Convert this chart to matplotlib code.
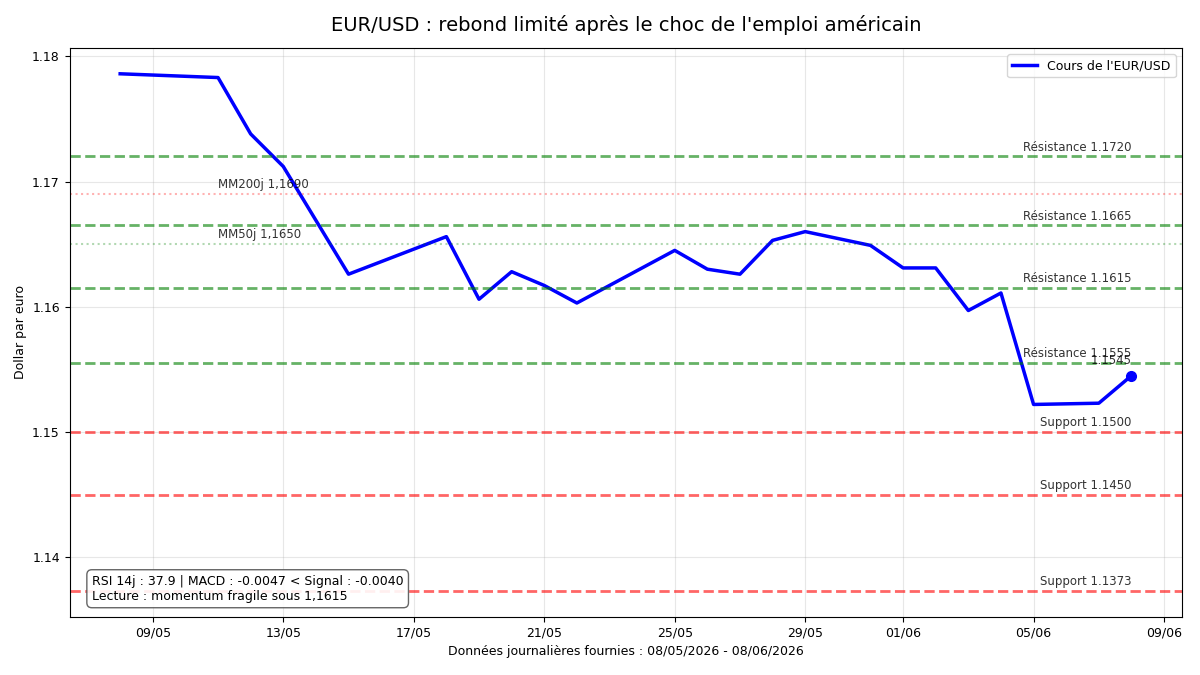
import matplotlib
matplotlib.use("Agg")
import matplotlib.pyplot as plt
import matplotlib.dates as mdates
import matplotlib.transforms as mtransforms
import pandas as pd

dates = ["2026-05-08", "2026-05-11", "2026-05-12", "2026-05-13", "2026-05-15",
         "2026-05-18", "2026-05-19", "2026-05-20", "2026-05-21", "2026-05-22",
         "2026-05-25", "2026-05-26", "2026-05-27", "2026-05-28", "2026-05-29",
         "2026-05-31", "2026-06-01", "2026-06-02", "2026-06-03", "2026-06-04",
         "2026-06-05", "2026-06-07", "2026-06-08"]
prices = [1.1786, 1.1783, 1.1738, 1.1712, 1.1626,
          1.1656, 1.1606, 1.1628, 1.1617, 1.1603,
          1.1645, 1.1630, 1.1626, 1.1653, 1.1660,
          1.1649, 1.1631, 1.1631, 1.1597, 1.1611,
          1.1522, 1.1523, 1.1545]
resistances = [1.1720, 1.1665, 1.1615, 1.1555]
supports = [1.1500, 1.1450, 1.1373]
mm200 = 1.1690
mm50 = 1.1650
mm200_label = "MM200j 1,1690"
mm50_label = "MM50j 1,1650"
last_label = "1.1545"
info_text = "RSI 14j : 37.9 | MACD : -0.0047 < Signal : -0.0040\nLecture : momentum fragile sous 1,1615"

x = pd.to_datetime(dates)

fig = plt.figure(figsize=(12, 6.75), dpi=100)
ax = fig.add_axes([0.058, 0.086, 0.927, 0.843])

ax.plot(x, prices, color="blue", lw=2.5, label="Cours de l'EUR/USD")
ax.plot(x[-1], prices[-1], "o", color="blue", ms=7)

for r in resistances:
    ax.axhline(r, color="green", ls="--", lw=2, alpha=0.6)
for s in supports:
    ax.axhline(s, color="red", ls="--", lw=2, alpha=0.6)
ax.axhline(mm200, color="red", ls=":", lw=1.5, alpha=0.3)
ax.axhline(mm50, color="green", ls=":", lw=1.5, alpha=0.3)

offd = mtransforms.offset_copy(ax.transData, fig=fig, x=0, y=2, units="points")
xlast = mdates.date2num(x[-1])
for r in resistances:
    ax.text(xlast, r, f"Résistance {r:.4f}", transform=offd, ha="right", va="bottom",
            fontsize=8.5, color="black", alpha=0.8)
for s in supports:
    ax.text(xlast, s, f"Support {s:.4f}", transform=offd, ha="right", va="bottom",
            fontsize=8.5, color="black", alpha=0.8)

ax.text(mdates.date2num(x[1]), mm200, mm200_label, transform=offd, ha="left", va="bottom",
        fontsize=8.5, color="black", alpha=0.8)
ax.text(mdates.date2num(x[1]), mm50, mm50_label, transform=offd, ha="left", va="bottom",
        fontsize=8.5, color="black", alpha=0.8)
ax.annotate(last_label, (x[-1], prices[-1]), xytext=(0, 6), textcoords="offset points",
            ha="right", va="bottom", fontsize=8.5, color="black", alpha=0.8)

ax.text(0.02, 0.025, info_text, transform=ax.transAxes, fontsize=9, va="bottom", ha="left",
        bbox=dict(boxstyle="round,pad=0.4", facecolor="white", edgecolor="#555555", alpha=0.9))

ax.xaxis.set_major_formatter(mdates.DateFormatter("%d/%m"))
ax.grid(True, alpha=0.3)
ax.set_title("EUR/USD : rebond limité après le choc de l'emploi américain", fontsize=14, pad=12)
ax.set_ylabel("Dollar par euro", fontsize=9)
ax.set_xlabel("Données journalières fournies : 08/05/2026 - 08/06/2026", fontsize=9)
ax.tick_params(labelsize=9)
ax.legend(loc="upper right", fontsize=9)

fig.savefig("out.png", dpi=100)
